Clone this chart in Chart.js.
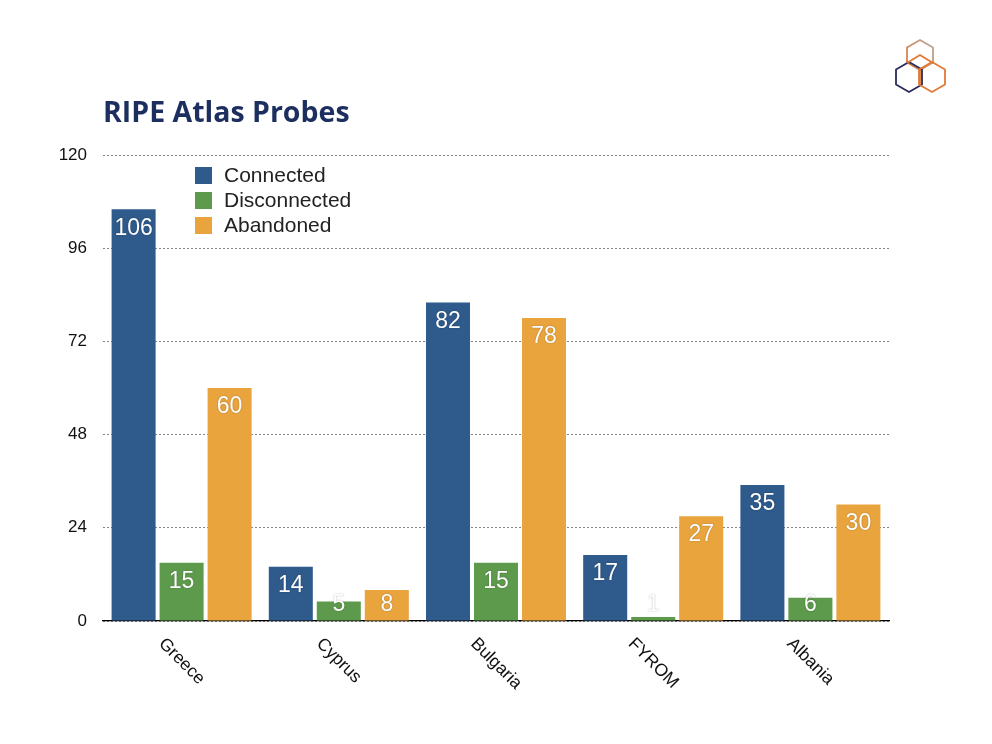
<!DOCTYPE html>
<html>
<head>
<meta charset="utf-8">
<script src="https://cdn.jsdelivr.net/npm/chart.js@4"></script>
<style>
    body { margin: 0; background: #fff; }
    #wrap { position: relative; width: 992px; height: 744px; }
    #title {
        position: absolute; left: 103px; top: 92px;
        font: bold 28.5px "Open Sans", sans-serif; color: #1d2f5f;
    }
    #logo { position: absolute; left: 880px; top: 30px; }
    canvas { position: absolute; left: 0; top: 0; }
</style>
</head>
<body>
<div id="wrap">
    <canvas id="chart" width="992" height="744"></canvas>
    <div id="title">RIPE Atlas Probes</div>
    <svg id="logo" width="80" height="70" viewBox="880 30 80 70">
        <defs>
            <linearGradient id="topg" x1="0" y1="1" x2="1" y2="0">
                <stop offset="0" stop-color="#e07a34"/>
                <stop offset="1" stop-color="#b9a9a0"/>
            </linearGradient>
        </defs>
        <g fill="none" stroke-width="1.8" stroke-linejoin="round">
            <polygon points="920,40 933,47.5 933,62.5 920,70 907,62.5 907,47.5" stroke="url(#topg)"/>
            <polygon points="909,62 922,69.5 922,84.5 909,92 896,84.5 896,69.5" stroke="#2a2b5c"/>
            <polygon points="932,62 945,69.5 945,84.5 932,92 919,84.5 919,69.5" stroke="#e07a34"/>
            <polyline points="907,63 920,55 933,63" stroke="#e07a34"/>
            <line x1="920" y1="70" x2="920" y2="84" stroke="#e07a34"/>
        </g>
    </svg>
</div>
<script>
/* ── 数据 ── */
const categories = ['Greece', 'Cyprus', 'Bulgaria', 'FYROM', 'Albania'];
const connected = [106, 14, 82, 17, 35];
const disconnected = [15, 5, 15, 1, 6];
const abandoned = [60, 8, 78, 27, 30];
const yTicks = [0, 24, 48, 72, 96, 120];

const COLORS = ['#2e5a8c', '#5d9a4b', '#e9a43d'];
const FONT = '"Liberation Sans", Arial, sans-serif';

// 柱顶数值（白字，小柱子时抬高）
const valueLabels = {
    id: 'valueLabels',
    afterDatasetsDraw(chart) {
        const ctx = chart.ctx;
        const base = chart.chartArea.bottom;
        ctx.save();
        ctx.font = '23px ' + FONT;
        ctx.textAlign = 'center';
        ctx.textBaseline = 'middle';
        ctx.fillStyle = '#fff';
        ctx.shadowColor = 'rgba(0,0,0,0.35)';
        ctx.shadowBlur = 1.5;
        chart.data.datasets.forEach((ds, i) => {
            chart.getDatasetMeta(i).data.forEach((bar, j) => {
                const y = Math.min(bar.y + 19, base - 16);
                ctx.fillText(String(ds.data[j]), bar.x, y);
            });
        });
        ctx.restore();
    },
};

// 图例 + 斜向类别标签
const extras = {
    id: 'extras',
    afterDraw(chart) {
        const ctx = chart.ctx;
        ctx.save();
        // legend
        ctx.font = '21px ' + FONT;
        ctx.textBaseline = 'middle';
        chart.data.datasets.forEach((ds, i) => {
            const y = 175 + i * 25;
            ctx.fillStyle = ds.backgroundColor;
            ctx.fillRect(195, y - 8, 17, 17);
            ctx.fillStyle = '#222';
            ctx.fillText(ds.label, 224, y + 1);
        });
        // x labels, rotated +45deg
        const xs = chart.scales.x;
        ctx.font = '17.5px ' + FONT;
        ctx.fillStyle = '#111';
        ctx.textAlign = 'center';
        categories.forEach((c, i) => {
            const cx = xs.getPixelForValue(i);
            const w = ctx.measureText(c).width;
            const cy = 635 + w * 0.354 + 6;
            ctx.save();
            ctx.translate(cx, cy);
            ctx.rotate(Math.PI / 4);
            ctx.fillText(c, 0, 0);
            ctx.restore();
        });
        ctx.restore();
    },
};

new Chart(document.getElementById('chart'), {
    type: 'bar',
    data: {
        labels: categories,
        datasets: [
            { label: 'Connected', data: connected, backgroundColor: COLORS[0] },
            { label: 'Disconnected', data: disconnected, backgroundColor: COLORS[1] },
            { label: 'Abandoned', data: abandoned, backgroundColor: COLORS[2] },
        ],
    },
    options: {
        responsive: false,
        animation: false,
        layout: { padding: { top: 155, right: 103, left: 0, bottom: 0 } },
        datasets: { bar: { categoryPercentage: 0.916, barPercentage: 0.917 } },
        scales: {
            x: {
                ticks: { display: false },
                grid: { display: false },
                border: { display: true, color: '#000', width: 1.2 },
                afterFit: s => { s.height = 744 - 621; },
            },
            y: {
                min: 0, max: 120,
                afterBuildTicks: s => { s.ticks = yTicks.map(v => ({ value: v })); },
                ticks: { color: '#111', font: { size: 17, family: FONT }, padding: 16 },
                grid: { color: '#666', drawTicks: false, lineWidth: 0.8 },
                border: { display: false, dash: [2, 2] },
                afterFit: s => { s.width = 103; },
            },
        },
        plugins: {
            legend: { display: false },
            tooltip: { enabled: false },
        },
    },
    plugins: [valueLabels, extras],
});
</script>
</body>
</html>
